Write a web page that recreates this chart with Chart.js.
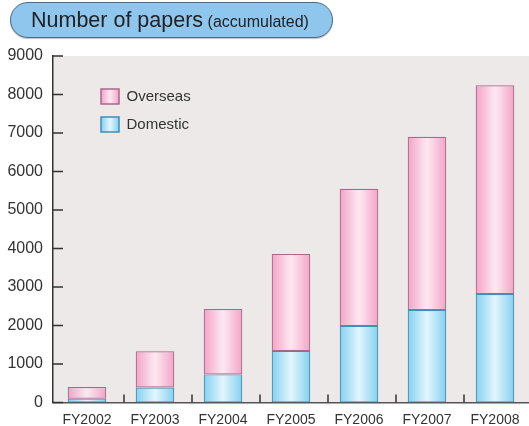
<!DOCTYPE html>
<html>
<head>
<meta charset="utf-8">
<script src="https://cdn.jsdelivr.net/npm/chart.js@4"></script>
<style>
  body { margin: 0; background: #fff; }
  #wrap { position: relative; width: 529px; height: 426px; }
  #title {
    position: absolute; left: 10px; top: 2px; width: 321px; height: 34px;
    box-sizing: content-box;
    border: 1.5px solid #4f6b84; border-radius: 19px;
    background: #8ec6ee;
    box-shadow: 0 1px 1px rgba(0,0,0,0.25);
    font-family: "Liberation Sans", Arial, sans-serif; color: #222;
    line-height: 34px; white-space: nowrap;
  }
  #title .big { font-size: 21.5px; margin-left: 20px; }
  #title .small { font-size: 16px; }
</style>
</head>
<body>
<div id="wrap">
  <canvas id="chart" width="529" height="426"></canvas>
  <div id="title"><span class="big">Number of papers</span> <span class="small">(accumulated)</span></div>
</div>
<script>
const CATEGORIES = ["FY2002", "FY2003", "FY2004", "FY2005", "FY2006", "FY2007", "FY2008"];
const DOMESTIC = [100, 390, 730, 1340, 1990, 2400, 2820];
const OVERSEAS = [300, 940, 1700, 2520, 3560, 4500, 5420];
const Y_TICKS = [0, 1000, 2000, 3000, 4000, 5000, 6000, 7000, 8000, 9000];

const BAR_PCT = 0.567;

function gradient(ctx, x0, x1, edge, mid) {
    const g = ctx.createLinearGradient(x0, 0, x1, 0);
    g.addColorStop(0, edge);
    g.addColorStop(0.5, mid);
    g.addColorStop(1, edge);
    return g;
}

function barGradient(edge, mid) {
    return (ctx) => {
        const chart = ctx.chart;
        if (!chart.chartArea || ctx.dataIndex === undefined) return edge;
        const x = chart.scales.x;
        const cx = x.getPixelForValue(ctx.dataIndex);
        const half = (x.width / CATEGORIES.length) * BAR_PCT / 2;
        if (!Number.isFinite(cx) || !Number.isFinite(half)) return edge;
        return gradient(chart.ctx, cx - half, cx + half, edge, mid);
    };
}

const plotBg = {
    id: "plotBg",
    beforeDraw(chart) {
        const { ctx, chartArea: a } = chart;
        ctx.save();
        ctx.fillStyle = "#ede9e8";
        ctx.fillRect(a.left, a.top, a.right - a.left, a.bottom - a.top);
        ctx.restore();
    },
};

// ticks pointing into the plot
const innerTicks = {
    id: "innerTicks",
    afterDraw(chart) {
        const { ctx, chartArea: a, scales } = chart;
        ctx.save();
        ctx.strokeStyle = "#333";
        ctx.lineWidth = 1.5;
        ctx.beginPath();
        Y_TICKS.forEach((v) => {
            const y = scales.y.getPixelForValue(v);
            ctx.moveTo(a.left, y);
            ctx.lineTo(a.left + 10, y);
        });
        for (let i = 1; i < CATEGORIES.length; i++) {
            const x = (scales.x.getPixelForValue(i - 1) + scales.x.getPixelForValue(i)) / 2 + 3;
            ctx.moveTo(x, a.bottom);
            ctx.lineTo(x, a.bottom - 8);
        }
        ctx.stroke();
        ctx.restore();
    },
};

// legend sits inside the plot, a bit in from the corner
const LEGEND_DX = 35, LEGEND_DY = 20;
const moveLegend = {
    id: "moveLegend",
    afterLayout(chart) {
        const lg = chart.legend;
        const a = chart.chartArea;
        lg.left = a.left + LEGEND_DX;
        lg.top = a.top + LEGEND_DY;
        lg.right = lg.left + lg.width;
        lg.bottom = lg.top + lg.height;
    },
};

const PINK = ["#f4a3c7", "#fce9f2", "#a8688a"];
const BLUE = ["#84d0f1", "#e3f6fd", "#3f8fb2"];

new Chart(document.getElementById("chart"), {
    type: "bar",
    data: {
        labels: CATEGORIES,
        datasets: [
            {
                label: "Domestic",
                data: DOMESTIC,
                backgroundColor: barGradient(BLUE[0], BLUE[1]),
                borderColor: BLUE[2],
                borderWidth: 1.2,
                borderSkipped: false,
            },
            {
                label: "Overseas",
                data: OVERSEAS,
                backgroundColor: barGradient(PINK[0], PINK[1]),
                borderColor: PINK[2],
                borderWidth: 1.2,
                borderSkipped: false,
            },
        ],
    },
    options: {
        responsive: false,
        animation: false,
        datasets: { bar: { categoryPercentage: 1, barPercentage: BAR_PCT } },
        layout: { padding: { top: 56, left: 7, right: 0, bottom: 0 } },
        scales: {
            x: {
                stacked: true,
                grid: { display: false, drawTicks: false },
                border: { color: "#555", width: 1.5 },
                afterFit: (s) => { s.height = 23.5; },
                ticks: {
                    color: "#333",
                    padding: 9,
                    font: { family: "'Liberation Sans Narrow', 'Liberation Sans', Arial", size: 14 },
                },
            },
            y: {
                stacked: true,
                min: 0,
                max: 9000,
                grid: { display: false, drawTicks: false },
                border: { color: "#333", width: 1.5 },
                afterFit: (s) => { s.width = 46; },
                ticks: {
                    stepSize: 1000,
                    color: "#333",
                    padding: 10,
                    font: { family: "'Liberation Sans', Arial", size: 16 },
                    callback: (v) => String(v),
                },
            },
        },
        plugins: {
            title: { display: false },
            tooltip: { enabled: false },
            legend: {
                position: "chartArea",
                align: "start",
                reverse: true,
                labels: {
                    color: "#333",
                    boxWidth: 18,
                    boxHeight: 15,
                    padding: 13,
                    font: { family: "'Liberation Sans', Arial", size: 15 },
                    generateLabels(chart) {
                        const left = (chart.chartArea ? chart.chartArea.left : 53) + LEGEND_DX + 13;
                        return chart.data.datasets.map((ds, i) => {
                            const cols = i === 0 ? BLUE : PINK;
                            return {
                                text: ds.label,
                                fillStyle: gradient(chart.ctx, left, left + 18, cols[0], cols[1]),
                                strokeStyle: cols[2],
                                lineWidth: 1.5,
                                fontColor: "#333",
                                datasetIndex: i,
                                hidden: false,
                            };
                        });
                    },
                },
            },
        },
    },
    plugins: [plotBg, moveLegend, innerTicks],
});
</script>
</body>
</html>
